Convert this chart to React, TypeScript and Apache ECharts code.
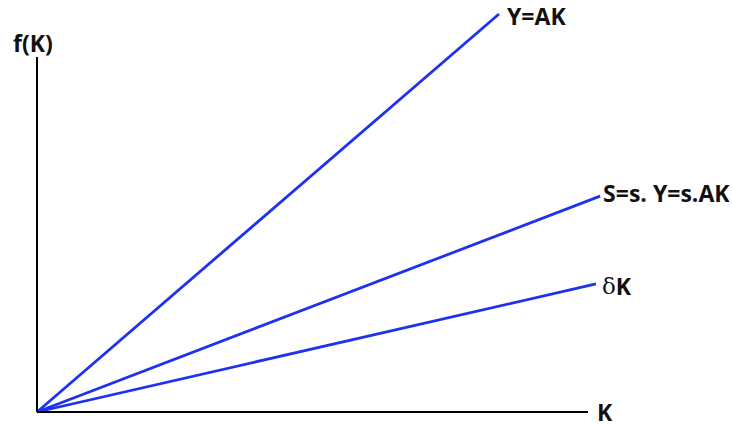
import React, { useEffect, useRef } from "react";
import * as echarts from "echarts";

// Line end points (K, f(K)); all lines start at the origin
const seriesNames = ["Y=AK", "S=s. Y=s.AK", "δK"];
const lineAK = [[0, 0], [8.385, 11.21]];
const lineSAK = [[0, 0], [10.22, 6.08]];
const lineDeltaK = [[0, 0], [10.145, 3.606]];
// Axis extent drawn as the K and f(K) axes
const axisEnd = { k: 10, f: 10 };
const xAxisName = "K";
const yAxisName = "f(K)";

const FONT = "'Open Sans', 'Noto Sans', sans-serif";
const BLUE = "#1c32f0";
const TEXT = "#111";

export default function App() {
  const ref = useRef<HTMLDivElement>(null);
  useEffect(() => {
    document.body.style.margin = "0";
    const chart = echarts.init(ref.current!, null, { renderer: "svg" });
    const labelBase = {
      show: true,
      fontFamily: FONT,
      fontSize: 23,
      fontWeight: "bold" as const,
      color: TEXT,
    };
    const hiddenAxis = {
      type: "value",
      axisLine: { show: false },
      axisTick: { show: false },
      axisLabel: { show: false },
      splitLine: { show: false },
    };
    const yMin = -0.35;
    const yMax = 11.3;
    chart.setOption({
      animation: false,
      backgroundColor: "#ffffff",
      // 55.1 px per K unit, 35.5 px per f(K) unit; origin at (37, 412)
      grid: {
        left: 37,
        top: 412 - yMax * 35.5,
        width: 11.5 * 55.1,
        height: (yMax - yMin) * 35.5,
        outerBoundsMode: "none",
      },
      xAxis: { ...hiddenAxis, min: 0, max: 11.5 },
      yAxis: { ...hiddenAxis, min: yMin, max: yMax },
      series: [
        {
          name: seriesNames[0],
          type: "line",
          data: lineAK,
          showSymbol: false,
          clip: false,
          lineStyle: { color: BLUE, width: 2.8 },
          endLabel: { ...labelBase, formatter: "{a}", distance: 8, offset: [0, 2] },
          markLine: {
            silent: true,
            symbol: "none",
            animation: false,
            lineStyle: { color: "#000", width: 2, type: "solid" },
            label: { ...labelBase, position: "end" },
            data: [
              [
                { coord: [0, 0] },
                {
                  coord: [axisEnd.k, 0],
                  label: { formatter: xAxisName, distance: 9, lineHeight: 20 },
                },
              ],
              [
                { coord: [0, 0] },
                { coord: [0, axisEnd.f], label: { formatter: yAxisName, distance: 3, padding: [0, 8, 0, 0] } },
              ],
            ],
          },
        },
        {
          name: seriesNames[1],
          type: "line",
          data: lineSAK,
          showSymbol: false,
          clip: false,
          lineStyle: { color: BLUE, width: 2.8 },
          endLabel: { ...labelBase, formatter: "{a}", distance: 3, offset: [0, -3] },
        },
        {
          name: seriesNames[2],
          type: "line",
          data: lineDeltaK,
          showSymbol: false,
          clip: false,
          lineStyle: { color: BLUE, width: 2.8 },
          endLabel: {
            ...labelBase,
            formatter: () => "{d|δ}{k|K}",
            distance: 6,
            offset: [0, 2],
            rich: {
              d: { fontFamily: "'DejaVu Serif', serif", fontSize: 23, fontWeight: "normal", color: TEXT },
              k: { fontFamily: FONT, fontSize: 23, fontWeight: "bold", color: TEXT },
            },
          },
        },
      ],
    });
    return () => chart.dispose();
  }, []);
  return (
    <div
      ref={ref}
      style={{ position: "fixed", left: 0, top: 0, width: 732, height: 425 }}
    />
  );
}
